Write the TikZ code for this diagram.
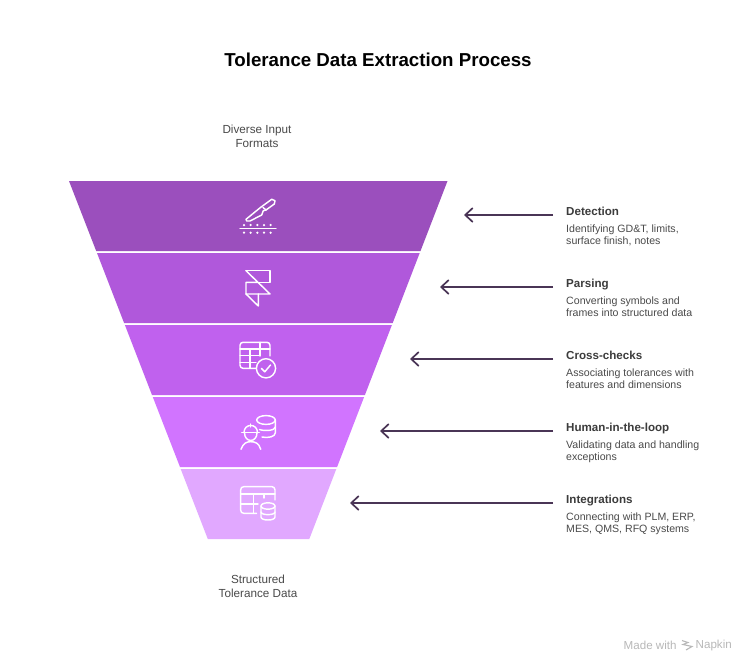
\documentclass[tikz,border=0pt]{standalone}
\usepackage{amsmath}
\usepackage{fontspec}
\usepackage{tikz}
\usetikzlibrary{arrows.meta}
\setmainfont{Liberation Sans}
\definecolor{bandone}{HTML}{9B4FBD}
\definecolor{bandtwo}{HTML}{B058DB}
\definecolor{bandthree}{HTML}{C061EE}
\definecolor{bandfour}{HTML}{D174FF}
\definecolor{bandfive}{HTML}{E1A8FF}
\definecolor{pointercol}{HTML}{4A3556}
\definecolor{headcol}{HTML}{3C3C3C}
\definecolor{notecol}{HTML}{4A4A4A}
\tikzset{
  icon/.style={draw=white,line width=1.45pt,line cap=round,line join=round},
  pointer/.style={draw=pointercol,line width=1.7pt,-{Straight Barb[length=7.5pt,width=14pt,line width=1.7pt]}},
  headtext/.style={anchor=west,inner xsep=13pt,inner ysep=0pt,text height=9pt,text depth=9pt,text=headcol,font=\fontsize{11.6}{12}\selectfont\bfseries},
  notetext/.style={anchor=north west,inner sep=0pt,align=left,text=notecol,font=\fontsize{10.6}{12}\selectfont},
  endtext/.style={inner sep=0pt,align=center,text=notecol,font=\fontsize{11.7}{14}\selectfont},
  marktext/.style={inner sep=0pt,text=black!28,font=\fontsize{11.6}{12}\selectfont}
}
\begin{document}
\begin{tikzpicture}[x=1pt,y=-1pt]
  \useasboundingbox[fill=white] (0,0) rectangle (756,672);
  \node[font=\fontsize{18.7}{24}\selectfont\bfseries,inner sep=0pt] (title) at (378,60) {Tolerance Data Extraction Process};
  \node[endtext] (inputs) at (257,136) {Diverse Input\\Formats};
  \node[endtext] (outputs) at (258,586) {Structured\\Tolerance Data};
  % funnel bands
  \fill[bandone] (69,181) -- (447.5,181) -- (420.5,251) -- (96.2,251) -- cycle;
  \fill[bandtwo] (97,253) -- (419.7,253) -- (392.7,323) -- (124.1,323) -- cycle;
  \fill[bandthree] (124.9,325) -- (391.9,325) -- (364.9,395) -- (152,395) -- cycle;
  \fill[bandfour] (152.8,397) -- (364.1,397) -- (337.1,467) -- (180,467) -- cycle;
  \fill[bandfive] (180.7,469) -- (336.3,469) -- (309.3,539) -- (207.8,539) -- cycle;
  % knife
  \draw[icon] (246,219.3) -- (260.7,207.3) -- (271.7,199.3) -- (275,200.7) -- (274.3,204) -- (266,210) -- (263.3,210.7) -- (261.7,215) -- (250,221) -- (246.7,221) -- cycle;
  \draw[icon] (263,207.5) -- (266,210);
  \draw[icon] (240,228.7) -- (276,228.7);
  \foreach \dotx in {244,250.7,257.3,264,270.7} {
    \fill[white] (\dotx,225) circle (1.25pt);
    \fill[white] (\dotx,232.7) circle (1.25pt);
  }
  % frame logo
  \draw[icon] (246,270.7) -- (270,270.7) -- (270,282.3) -- (258,282.3);
  \draw[icon] (246,270.7) -- (270,294) -- (246,294) -- (246,282.3) -- (258,282.3);
  \draw[icon] (246,294) -- (258.3,306) -- (258.3,294);
  % table and check
  \draw[icon,rounded corners=3pt] (256,368.3) -- (240,368.3) -- (240,342.3) -- (270,342.3) -- (270,356);
  \draw[icon] (240,349) -- (270,349);
  \draw[icon] (240,355.7) -- (260,355.7);
  \draw[icon] (240,362.3) -- (256,362.3);
  \draw[icon] (250,349) -- (250,368.3);
  \draw[icon] (260,342.3) -- (260,356);
  \draw[icon] (266,368.3) circle (9.6pt);
  \draw[icon] (261.5,368.5) -- (264.8,371.8) -- (270.5,365);
  % worker and database
  \draw[icon] (266,420) ellipse (9.3pt and 4.4pt);
  \draw[icon] (275.3,420) -- (275.3,433) .. controls (275.3,436.5) and (268,438.5) .. (262,437);
  \draw[icon] (275.3,427) .. controls (275.3,430.5) and (265,431.5) .. (259.5,429.5);
  \draw[icon] (241.7,432.7) -- (259.3,432.7);
  \draw[icon] (244,432.7) .. controls (244,423) and (257.5,423) .. (257.5,432.7);
  \draw[icon] (250.7,424) -- (250.7,427);
  \draw[icon] (244.5,432.7) .. controls (244.5,443) and (257,443) .. (257,432.7);
  \draw[icon] (241,449.3) .. controls (243,443) and (247,441.7) .. (250.7,441.7) .. controls (255,441.7) and (259,443) .. (260.7,449.3);
  % table and database
  \draw[icon,rounded corners=3pt] (256.5,513.3) -- (240.7,513.3) -- (240.7,486.7) -- (275,486.7) -- (275,500);
  \draw[icon] (240.7,494) -- (275,494);
  \draw[icon] (240.7,504) -- (258,504);
  \draw[icon] (253.3,494) -- (253.3,513.3);
  \draw[icon] (264,494) -- (264,498);
  \draw[icon] (268,506) ellipse (7pt and 3.2pt);
  \draw[icon] (261,506) -- (261,517) .. controls (261,521) and (275,521) .. (275,517) -- (275,506);
  \draw[icon] (261,512) .. controls (261,515.5) and (275,515.5) .. (275,512);
  % step texts
  \node[headtext] (detection) at (553,215) {Detection};
  \node[notetext] (detectionnote) at (566,224.5) {Identifying GD\&T, limits,\\surface finish, notes};
  \node[headtext] (parsing) at (553,287) {Parsing};
  \node[notetext] (parsingnote) at (566,296.5) {Converting symbols and\\frames into structured data};
  \node[headtext] (crosschecks) at (553,359) {Cross-checks};
  \node[notetext] (crosschecksnote) at (566,368.5) {Associating tolerances with\\features and dimensions};
  \node[headtext] (humanloop) at (553,431) {Human-in-the-loop};
  \node[notetext] (humanloopnote) at (566,440.5) {Validating data and handling\\exceptions};
  \node[headtext] (integrations) at (553,503) {Integrations};
  \node[notetext] (integrationsnote) at (566,512.5) {Connecting with PLM, ERP,\\MES, QMS, RFQ systems};
  % arrows towards the funnel
  \coordinate (detectiontip) at (464,215);
  \coordinate (parsingtip) at (440,287);
  \coordinate (crosscheckstip) at (410,359);
  \coordinate (humanlooptip) at (380,431);
  \coordinate (integrationstip) at (350,503);
  \draw[pointer] (detection.west) -- (detectiontip);
  \draw[pointer] (parsing.west) -- (parsingtip);
  \draw[pointer] (crosschecks.west) -- (crosscheckstip);
  \draw[pointer] (humanloop.west) -- (humanlooptip);
  \draw[pointer] (integrations.west) -- (integrationstip);
  % watermark
  \node[marktext,anchor=west] (madewith) at (623.5,645) {Made with};
  \node[marktext,anchor=east] (napkin) at (732,645) {Napkin};
  \draw[black!28,line width=1.1pt] (682,640.5) -- (688,642.5) -- (683,644.5) -- (692,646.5) -- (686,650);
\end{tikzpicture}
\end{document}
